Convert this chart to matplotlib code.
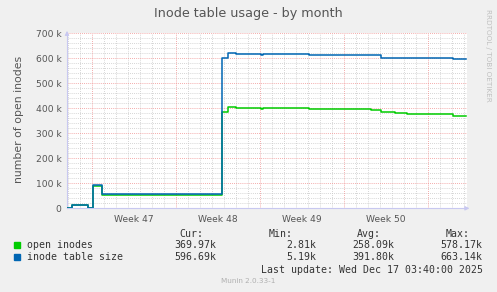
import matplotlib
matplotlib.use("Agg")
import matplotlib.pyplot as plt
from matplotlib.patches import Rectangle

# time in days from the left edge of the graph, values in thousands
t_days = [0.0, 0.42, 1.79, 2.17, 2.92, 12.94, 13.38, 14.08, 16.2, 16.3,
          17.42, 20.19, 25.33, 26.13, 27.33, 28.31, 32.19, 33.25]
open_inodes = [2.8, 12, 2.8, 90, 55, 385, 407, 402, 399, 403,
               400, 396, 392, 385, 380, 376, 370, 370]
table_size = [3, 13, 3, 92, 56, 600, 620, 616, 612, 619,
              616, 612, 612, 602, 602, 600, 596.7, 596.7]

week_starts = [2.1, 9.1, 16.1, 23.1, 30.1]
week_labels = ["Week 47", "Week 48", "Week 49", "Week 50"]
y_ticks = [0, 100, 200, 300, 400, 500, 600, 700]

legend_names = ["open inodes", "inode table size"]
legend_colors = ["#00CC00", "#0066B3"]
cur_vals = ["369.97k", "596.69k"]
min_vals = ["2.81k", "5.19k"]
avg_vals = ["258.09k", "391.80k"]
max_vals = ["578.17k", "663.14k"]

W, H = 497, 292
fig = plt.figure(figsize=(W / 100, H / 100), dpi=100, facecolor="#F0F0F0")
ax = fig.add_axes([67 / W, (H - 208.3) / H, 400 / W, 175 / H])
ax.set_facecolor("white")
ax.set_xlim(0, 400 / 12)
ax.set_ylim(0, 700)

# grid: minor every day / 20k, major every week / 100k
day = week_starts[0] - 2
while day < 400 / 12:
    if day > 0.05 and all(abs(day - w) > 0.01 for w in week_starts):
        ax.axvline(day, color="#C8C8C8", lw=0.6, ls=(0, (1, 1.5)), zorder=0)
    day += 1
for v in range(20, 700, 20):
    if v % 100:
        ax.axhline(v, color="#C8C8C8", lw=0.6, ls=(0, (1, 1.5)), zorder=0)
for w in week_starts:
    ax.axvline(w, color="#F09090", lw=0.6, ls=(0, (1, 1.5)), zorder=0)
for v in y_ticks[1:]:
    ax.axhline(v, color="#F09090", lw=0.6, ls=(0, (1, 1.5)), zorder=0)

ax.step(t_days, open_inodes, where="post", color=legend_colors[0], lw=1.1, zorder=3)
ax.step(t_days, table_size, where="post", color=legend_colors[1], lw=1.1, zorder=4)

mids = [(week_starts[i] + week_starts[i + 1]) / 2 for i in range(len(week_labels))]
ax.set_xticks(mids)
ax.set_xticklabels(week_labels)
ax.set_yticks(y_ticks)
ax.set_yticklabels(["0"] + [f"{v} k" for v in y_ticks[1:]])
ax.tick_params(axis="both", length=0, labelsize=6.6, labelcolor="#555555", pad=4)
ax.tick_params(axis="x", pad=5)

for s in ["top", "right"]:
    ax.spines[s].set_visible(False)
for s in ["left", "bottom"]:
    ax.spines[s].set_color("#C8C8F0")
    ax.spines[s].set_linewidth(0.8)
ax.annotate("", xy=(1.013, 0), xytext=(0.99, 0), xycoords="axes fraction",
            arrowprops=dict(arrowstyle="-|>", color="#C8C8F0", lw=0.8,
                            mutation_scale=6))
ax.annotate("", xy=(0, 1.03), xytext=(0, 0.98), xycoords="axes fraction",
            arrowprops=dict(arrowstyle="-|>", color="#C8C8F0", lw=0.8,
                            mutation_scale=6))

ax.set_ylabel("number of open inodes", fontsize=7.8, color="#555555", va="center")
ax.yaxis.set_label_coords((19 - 67) / 400, (208.3 - 119) / 175)

fig.text(248 / W, 1 - 14 / H, "Inode table usage - by month", ha="center",
         va="center", fontsize=9.2, color="#555555")
fig.text(488 / W, 1 - 55 / H, "RRDTOOL / TOBI OETIKER", rotation=270,
         ha="center", va="center", fontsize=5.2, color="#C0C0C0")

mono = dict(family="DejaVu Sans Mono", fontsize=7.15, color="#333333", va="center")
fy = lambda y: 1 - y / H
fig.text(203 / W, fy(234), "Cur:", ha="right", **mono)
fig.text(292.3 / W, fy(234), "Min:", ha="right", **mono)
fig.text(380.7 / W, fy(234), "Avg:", ha="right", **mono)
fig.text(469.3 / W, fy(234), "Max:", ha="right", **mono)
for i, name in enumerate(legend_names):
    y = 245.3 + i * 12
    fig.patches.append(Rectangle((14 / W, fy(y + 3)), 6 / W, 6 / H,
                                 transform=fig.transFigure, color=legend_colors[i]))
    fig.text(26.7 / W, fy(y), name, ha="left", **mono)
    fig.text(216.7 / W, fy(y), cur_vals[i], ha="right", **mono)
    fig.text(316 / W, fy(y), min_vals[i], ha="right", **mono)
    fig.text(394.3 / W, fy(y), avg_vals[i], ha="right", **mono)
    fig.text(482.7 / W, fy(y), max_vals[i], ha="right", **mono)
fig.text(482.7 / W, fy(269.7), "Last update: Wed Dec 17 03:40:00 2025", ha="right", **mono)
fig.text(248 / W, fy(281.3), "Munin 2.0.33-1", ha="center", va="center",
         fontsize=5.2, color="#B0B0B0")

fig.savefig("out.png", dpi=100, facecolor=fig.get_facecolor())
